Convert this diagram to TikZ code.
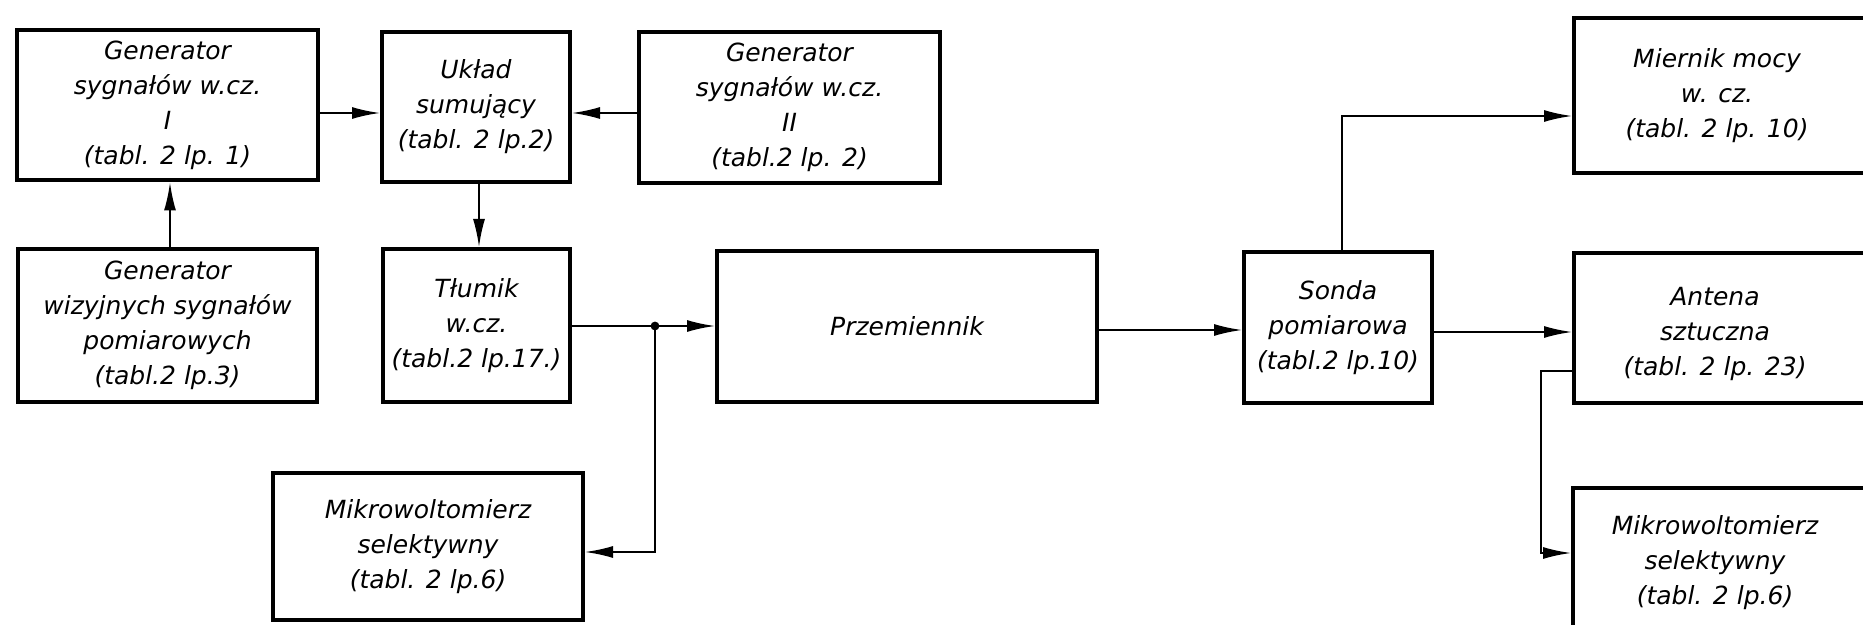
\documentclass[tikz,border=0pt]{standalone}
\usepackage{fontspec}
\setmainfont{DejaVu Sans}
\usetikzlibrary{arrows.meta}
\begin{document}
\begin{tikzpicture}[x=0.5pt,y=-0.5pt,
  blk/.style={draw, line width=2pt, inner sep=0pt, align=center,
    font=\itshape\fontsize{12.5}{17.5}\selectfont},
  lbl/.style={inner sep=0pt, align=center, font=\itshape\fontsize{12.5}{17.5}\selectfont},
  conn/.style={line width=1pt},
  arr/.style={conn, -{Latex[length=14pt,width=6pt]}},
]
\useasboundingbox (0,0) rectangle (1863,625);
\clip (0,0) rectangle (1863,625);

% left blocks
\node[blk, minimum width=150.5pt, minimum height=75pt] (g1) at (167.5,105.5)
  {Generator\\sygnałów w.cz.\\I\\(tabl. 2 lp. 1)};
\node[blk, minimum width=94pt, minimum height=75pt] (uk) at (476,107)
  {Układ\\sumujący\\(tabl. 2 lp.2)};
\node[blk, minimum width=150.5pt, minimum height=75.5pt] (g2) at (789.5,107.5)
  {Generator\\sygnałów w.cz.\\II\\(tabl.2 lp. 2)};
\node[blk, minimum width=149.5pt, minimum height=76.5pt] (gw) at (167.5,325.5)
  {Generator\\wizyjnych sygnałów\\pomiarowych\\(tabl.2 lp.3)};
\node[blk, minimum width=93.5pt, minimum height=76.5pt] (tl) at (476.5,325.5)
  {Tłumik\\w.cz.\\(tabl.2 lp.17.)};
\node[blk, minimum width=190pt, minimum height=75.5pt] (pr) at (907,326.5)
  {Przemiennik};
\node[blk, minimum width=155pt, minimum height=73.5pt] (mk1) at (428,546.5)
  {Mikrowoltomierz\\selektywny\\(tabl. 2 lp.6)};
\node[blk, minimum width=94pt, minimum height=75.5pt] (so) at (1338,327.5)
  {Sonda\\pomiarowa\\(tabl.2 lp.10)};

% right blocks (cut by the picture edge)
\node[blk, minimum width=163pt, minimum height=77.5pt] (mi) at (1737,95.5) {};
\node[lbl] (mit) at (1717,96) {Miernik mocy\\w. cz.\\(tabl. 2 lp. 10)};
\node[blk, minimum width=163pt, minimum height=75pt] (an) at (1737,328) {};
\node[lbl] (ant) at (1715,334) {Antena\\sztuczna\\(tabl. 2 lp. 23)};
\node[blk, minimum width=163.5pt, minimum height=136pt] (mk2) at (1736.5,624) {};
\node[lbl] (mk2t) at (1715,563) {Mikrowoltomierz\\selektywny\\(tabl. 2 lp.6)};

% connectors
\draw[arr] (g1.east |- 0,113) -- (uk.west |- 0,113);
\draw[arr] (g2.west |- 0,113) -- (uk.east |- 0,113);
\draw[arr] (gw.north -| 170,0) -- (g1.south -| 170,0);
\draw[arr] (uk.south -| 479,0) -- (tl.north -| 479,0);
\coordinate (j) at (655,326);
\draw[conn] (tl.east |- j) -- (j);
\draw[arr] (j) -- (pr.west |- j);
\draw[arr] (j) |- (mk1.east |- 0,552);
\fill (j) circle (2.2pt);
\draw[arr] (pr.east |- 0,330) -- (so.west |- 0,330);
\draw[arr] (so.north -| 1342,0) |- (mi.west |- 0,116);
\draw[arr] (so.east |- 0,332) -- (an.west |- 0,332);
\coordinate (b) at (1541,371);
\draw[arr] (an.west |- b) -- (b) |- (mk2.west |- 0,553);
\end{tikzpicture}
\end{document}
